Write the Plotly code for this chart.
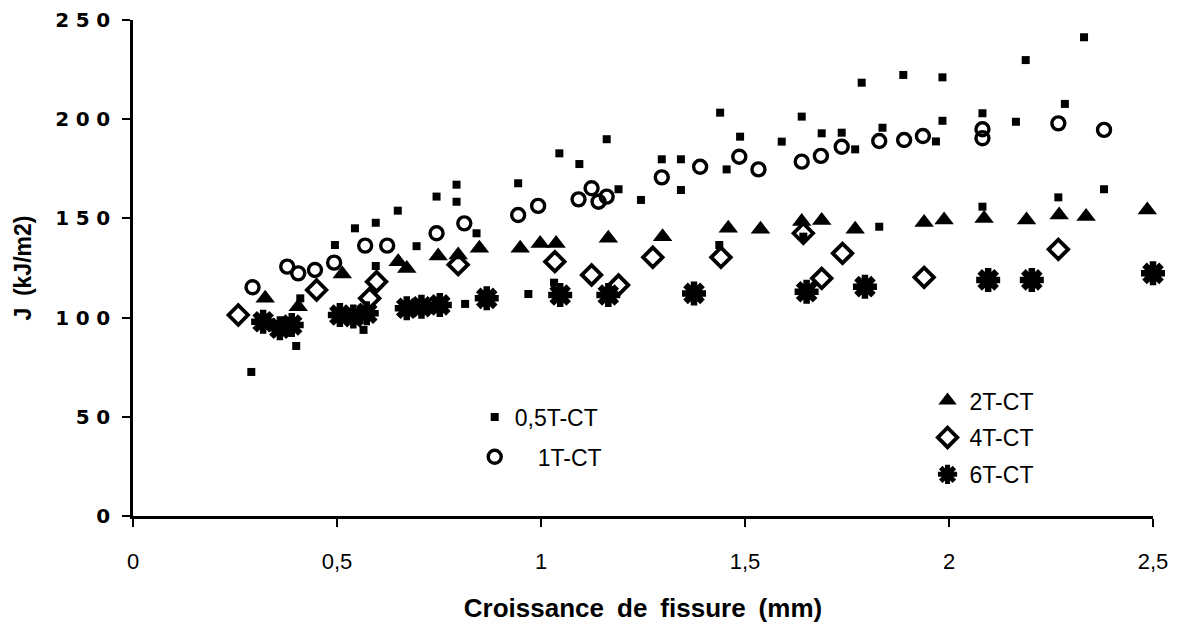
import plotly.graph_objects as go

# ---------------- data ----------------
s05_x = [0.29, 0.40, 0.41, 0.495, 0.544, 0.565, 0.595, 0.595, 0.649, 0.695, 0.744, 0.793, 0.793, 0.814,
         0.842, 0.944, 0.969, 1.032, 1.045, 1.094, 1.161, 1.190, 1.245, 1.296, 1.343, 1.343, 1.437, 1.439,
         1.455, 1.488, 1.590, 1.639, 1.643, 1.688, 1.737, 1.770, 1.786, 1.829, 1.837, 1.888, 1.968, 1.984,
         1.984, 2.082, 2.082, 2.164, 2.188, 2.268, 2.284, 2.331, 2.380]
s05_y = [72.6, 85.7, 109.7, 136.6, 145.0, 93.8, 147.8, 126.0, 153.9, 136.0, 161.0, 167.0, 158.4, 106.9,
         142.5, 167.7, 111.9, 117.6, 182.8, 177.4, 189.9, 164.7, 159.3, 179.8, 179.8, 164.3, 136.6, 203.3,
         174.7, 191.2, 188.7, 201.3, 140.8, 192.9, 193.2, 184.8, 218.4, 145.8, 195.7, 222.3, 188.8, 221.1,
         199.2, 203.0, 155.9, 198.7, 229.8, 160.6, 207.7, 241.3, 164.7]

s1_x = [0.293, 0.378, 0.405, 0.446, 0.493, 0.569, 0.623, 0.744, 0.812, 0.944, 0.993, 1.092, 1.124, 1.141,
        1.161, 1.296, 1.390, 1.486, 1.533, 1.639, 1.686, 1.737, 1.829, 1.890, 1.936, 2.082, 2.082, 2.268, 2.380]
s1_y = [115.3, 125.7, 122.3, 124.0, 127.7, 136.3, 136.3, 142.5, 147.5, 151.7, 156.3, 159.6, 165.2, 158.4,
        161.0, 170.7, 176.0, 181.1, 174.7, 178.6, 181.5, 186.1, 189.0, 189.5, 191.5, 194.9, 190.4, 197.9, 194.6]

s2_x = [0.324, 0.405, 0.513, 0.650, 0.671, 0.748, 0.797, 0.849, 0.949, 0.998, 1.037, 1.165, 1.298, 1.459,
        1.538, 1.639, 1.688, 1.770, 1.939, 1.988, 2.086, 2.190, 2.270, 2.336, 2.486]
s2_y = [109.7, 105.5, 122.0, 128.2, 124.8, 131.0, 131.6, 134.9, 134.9, 137.4, 137.4, 140.0, 140.8, 145.0,
        144.5, 148.4, 148.9, 144.5, 147.9, 149.2, 150.0, 149.2, 151.7, 150.9, 154.2]

s4_x = [0.258, 0.450, 0.597, 0.580, 0.797, 1.034, 1.124, 1.190, 1.274, 1.441, 1.643, 1.688, 1.739, 1.939, 2.268]
s4_y = [101.3, 113.9, 118.1, 109.7, 126.7, 128.2, 121.5, 116.4, 130.4, 130.4, 142.5, 119.8, 132.4, 120.3, 134.4]

s6_x = [0.319, 0.360, 0.389, 0.507, 0.540, 0.573, 0.671, 0.707, 0.752, 0.867, 1.047, 1.165, 1.375, 1.651,
        1.794, 2.096, 2.203, 2.50]
s6_y = [97.9, 94.6, 96.3, 101.3, 100.5, 102.2, 104.7, 105.5, 106.4, 109.7, 111.4, 111.4, 112.2, 113.0,
        115.6, 119.0, 119.0, 122.3]

series_names = ["0,5T-CT", "\u2002\u20021T-CT", "2T-CT", "4T-CT", "6T-CT"]

x_ticks = [0, 0.5, 1, 1.5, 2, 2.5]
x_ticklabels = ["0", "0,5", "1", "1,5", "2", "2,5"]
y_ticks = [0, 50, 100, 150, 200, 250]
y_ticklabels = ["0", "5\u20040", "1\u20040\u20040", "1\u20045\u20040", "2\u20040\u20040", "2\u20045\u20040"]

# ---------------- figure ----------------
fig = go.Figure()
blk = "#000000"

fig.add_trace(go.Scatter(x=s05_x, y=s05_y, mode="markers", name=series_names[0],
                         legend="legend", legendgroup="a",
                         marker=dict(symbol="square", size=8, color=blk)))
fig.add_trace(go.Scatter(x=s1_x, y=s1_y, mode="markers", name=series_names[1],
                         legend="legend", legendgroup="b",
                         marker=dict(symbol="circle-open", size=13, color=blk, line=dict(width=3.4, color=blk))))
fig.add_trace(go.Scatter(x=s2_x, y=s2_y, mode="markers", name=series_names[2],
                         legend="legend2", legendgroup="c",
                         marker=dict(symbol="triangle-up", size=17, color=blk)))
fig.add_trace(go.Scatter(x=s4_x, y=s4_y, mode="markers", name=series_names[3],
                         legend="legend2", legendgroup="d",
                         marker=dict(symbol="diamond-open", size=15, color=blk, line=dict(width=3.8, color=blk))))
fig.add_trace(go.Scatter(x=s6_x, y=s6_y, mode="markers", name=series_names[4],
                         legend="legend2", legendgroup="e",
                         marker=dict(symbol="asterisk-open", size=20, color=blk,
                                     line=dict(width=6.5, color=blk))))

for tr in fig.data:
    tr.cliponaxis = False

leg_font = dict(family="Liberation Sans, Arial, sans-serif", size=23, color=blk)

fig.update_layout(
    width=1189, height=627,
    margin=dict(l=125, r=44, t=12, b=119),
    paper_bgcolor="white", plot_bgcolor="white",
    font=dict(family="Liberation Sans, Arial, sans-serif", color=blk),
    showlegend=True,
    legend=dict(x=0.335, y=0.243, xanchor="left", yanchor="top", bgcolor="rgba(0,0,0,0)",
                font=leg_font, tracegroupgap=7, itemwidth=30),
    legend2=dict(x=0.777, y=0.276, xanchor="left", yanchor="top", bgcolor="rgba(0,0,0,0)",
                 font=leg_font, tracegroupgap=4, itemwidth=34),
    xaxis=dict(range=[0, 2.5], tickmode="array", tickvals=x_ticks, ticktext=x_ticklabels,
               automargin=False,
               showgrid=False, zeroline=False, showline=True, linecolor=blk, linewidth=3,
               ticks="outside", ticklen=8, tickwidth=2, tickcolor=blk, ticklabelstandoff=16,
               tickfont=dict(family="Liberation Sans, Arial, sans-serif", size=22, color=blk),
               title=dict(text="<b>Croissance\u2002de\u2002fissure\u2002(mm)</b>", standoff=26,
                          font=dict(family="Liberation Sans, Arial, sans-serif", size=26, color=blk))),
    yaxis=dict(range=[0, 250], tickmode="array", tickvals=y_ticks, ticktext=y_ticklabels,
               automargin=False,
               showgrid=False, zeroline=False, showline=True, linecolor=blk, linewidth=2.5,
               ticks="outside", ticklen=8, tickwidth=2, tickcolor=blk, ticklabelstandoff=8,
               tickfont=dict(family="DejaVu Sans, sans-serif", size=20, color=blk, weight="bold"),
               title=dict(text="<b>J\u2002(kJ/m2)</b>", standoff=18,
                          font=dict(family="Liberation Sans, Arial, sans-serif", size=23, color=blk))),
)

fig.write_html("out.html")
